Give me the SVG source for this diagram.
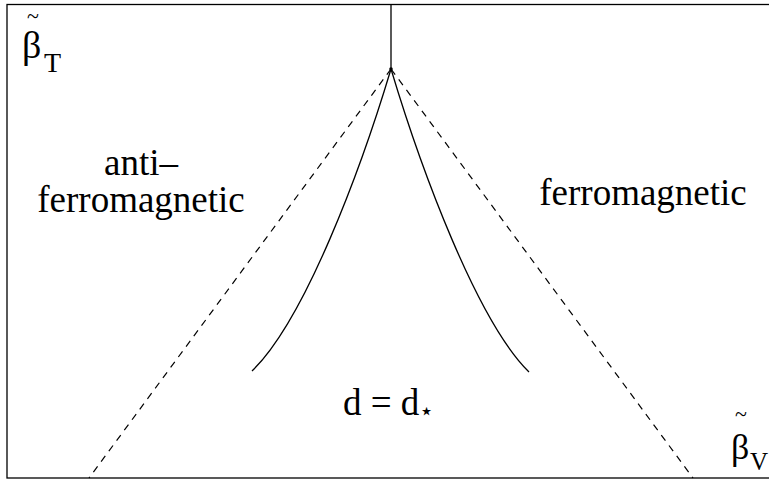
<svg xmlns="http://www.w3.org/2000/svg" width="769" height="479" viewBox="0 0 769 479">
<style>
.ln{fill:none;stroke:#000;stroke-width:1.3}
.ds{fill:none;stroke:#000;stroke-width:1.2;stroke-dasharray:7,6}
</style>
<rect x="0" y="0" width="769" height="479" fill="#fff"/>
<g id="frame"><rect x="7" y="4.5" width="763" height="473.5" class="ln"/></g>
<g id="connectors">
<line x1="391" y1="4.5" x2="391" y2="69" class="ln"/>
<path d="M391,69 L89,478" class="ds"/>
<path d="M391,69 L693,478" class="ds"/>
<path d="M391,69 C361,169 305,320 252,371" class="ln"/>
<path d="M391,69 C421,169 477,321 529,372" class="ln"/>
<circle cx="391" cy="69" r="1.8" fill="#000"/>
</g>
<g font-family="Liberation Serif, DejaVu Serif, serif" fill="#000">
<g id="axis-bt">
<text x="27" y="23" font-size="22">~</text>
<text x="22" y="58" font-size="38">β</text>
<text x="44" y="72" font-size="28">T</text>
</g>
<g id="axis-bv">
<text x="735" y="421" font-size="22">~</text>
<text x="731" y="459" font-size="36">β</text>
<text x="750" y="470" font-size="25">V</text>
</g>
<g id="anti"><text x="141" y="175" font-size="37" text-anchor="middle">anti–</text>
<text x="141" y="212" font-size="37" text-anchor="middle">ferromagnetic</text></g>
<g id="ferro"><text x="643" y="205" font-size="37" text-anchor="middle">ferromagnetic</text></g>
<g id="dstar"><text x="343" y="415" font-size="37">d = d<tspan font-size="24" dy="4">⋆</tspan></text></g>
</g>
</svg>
